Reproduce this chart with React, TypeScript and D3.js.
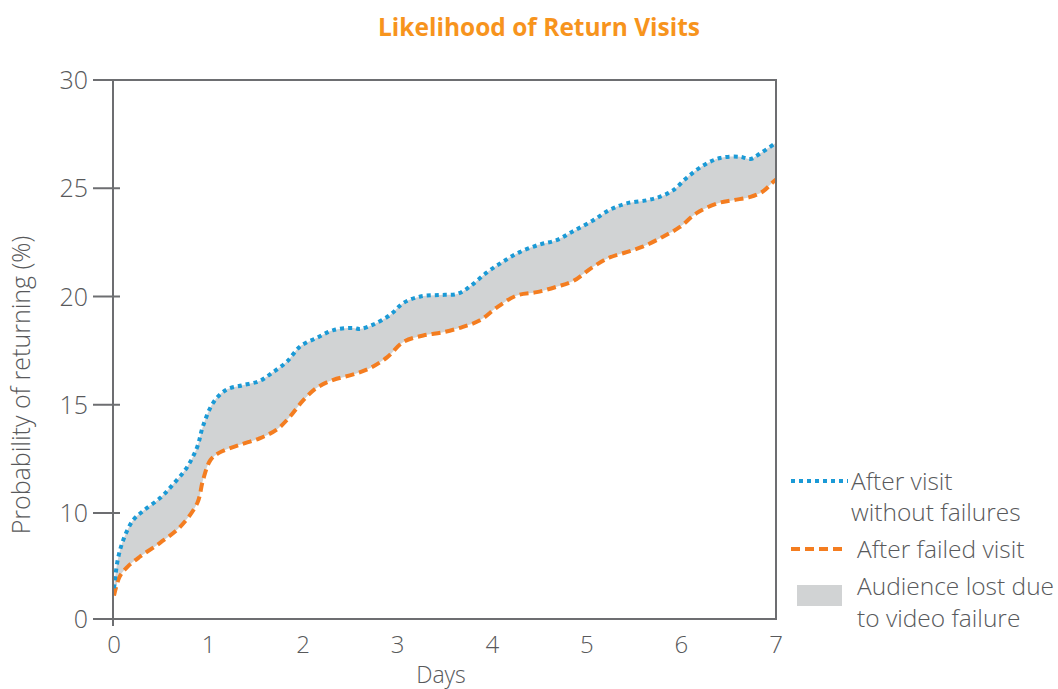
import React from "react";
import * as d3 from "d3";

// values (days, probability %)
const blueDays = [0, 0.04, 0.1, 0.2, 0.31, 0.49, 0.62, 0.77, 0.88, 0.94, 1.05, 1.19, 1.36, 1.54, 1.68, 1.83, 1.97, 2.15, 2.32, 2.53, 2.6, 2.74, 2.92, 3.06, 3.24, 3.45, 3.63, 3.76, 3.94, 4.11, 4.29, 4.5, 4.68, 4.85, 5.06, 5.24, 5.42, 5.64, 5.77, 5.91, 6.06, 6.23, 6.41, 6.62, 6.73, 6.83, 7];
const blueValues = [2.9, 5.6, 7.5, 9.3, 10.1, 10.7, 11.3, 12.1, 13.05, 14.0, 15.1, 15.7, 15.9, 16.1, 16.5, 17.0, 17.7, 18.1, 18.45, 18.55, 18.5, 18.7, 19.15, 19.7, 20.0, 20.07, 20.12, 20.45, 21.1, 21.6, 22.05, 22.4, 22.6, 23.0, 23.5, 24.0, 24.3, 24.45, 24.6, 24.9, 25.5, 26.05, 26.4, 26.45, 26.35, 26.6, 27.1];

const orangeDays = [0, 0.06, 0.14, 0.27, 0.49, 0.7, 0.88, 0.94, 1.02, 1.12, 1.33, 1.54, 1.72, 1.86, 2.0, 2.15, 2.32, 2.53, 2.71, 2.89, 3.06, 3.27, 3.48, 3.69, 3.87, 4.05, 4.26, 4.47, 4.68, 4.85, 5.06, 5.24, 5.42, 5.59, 5.8, 5.98, 6.16, 6.38, 6.55, 6.73, 6.86, 6.96, 7];
const orangeValues = [2.2, 4.0, 4.9, 5.85, 7.2, 8.7, 10.45, 11.5, 12.45, 12.8, 13.15, 13.45, 13.85, 14.45, 15.2, 15.8, 16.15, 16.4, 16.7, 17.2, 17.9, 18.2, 18.35, 18.6, 18.9, 19.5, 20.05, 20.2, 20.45, 20.7, 21.35, 21.8, 22.05, 22.3, 22.75, 23.2, 23.85, 24.3, 24.45, 24.6, 24.85, 25.25, 25.4];

const xTicks = [0, 1, 2, 3, 4, 5, 6, 7];
const yTicks = [0, 10, 15, 20, 25, 30];

const legendItems = ["After visit|without failures", "After failed visit", "Audience lost due|to video failure"];

const W = 1058;
const H = 689;
const FONT = "'Open Sans', 'Noto Sans', sans-serif";
const TEXT = "#58595b";
const AXIS = "#6d6e71";
const BLUE = "#1b9ad6";
const ORANGE = "#f47d20";
const GREY = "#d1d3d4";

type Pt = { d: number; v: number };

export default function App() {
  const x = d3.scaleLinear().domain([0, 7]).range([114, 776]);
  // the original axis is uneven below 10, so the scale is piecewise
  const y = d3.scaleLinear().domain([0, 10, 30]).range([619, 513, 80]);

  const blue: Pt[] = blueDays.map((d, i) => ({ d, v: blueValues[i] }));
  const orange: Pt[] = orangeDays.map((d, i) => ({ d, v: orangeValues[i] }));

  const line = d3
    .line<Pt>()
    .x((p) => x(p.d))
    .y((p) => y(p.v))
    .curve(d3.curveCatmullRom.alpha(0.5));

  const bluePath = line(blue) ?? "";
  const orangePath = line(orange) ?? "";
  const bandPath =
    bluePath + "L" + (line([...orange].reverse()) ?? "").slice(1) + "Z";

  const [l1, l2, l3] = legendItems.map((s) => s.split("|"));

  return (
    <svg
      width={W}
      height={H}
      style={{ position: "absolute", left: 0, top: 0, background: "#fff" }}
      fontFamily={FONT}
      fontWeight={300}
    >
      <text
        x={539}
        y={36}
        textAnchor="middle"
        fontSize={24.5}
        fontWeight={700}
        fill="#f7941d"
      >
        Likelihood of Return Visits
      </text>

      {/* band + series */}
      <path d={bandPath} fill={GREY} />
      <path
        d={orangePath}
        fill="none"
        stroke={ORANGE}
        strokeWidth={4}
        strokeDasharray="9 5"
      />
      <path
        d={bluePath}
        fill="none"
        stroke={BLUE}
        strokeWidth={4}
        strokeDasharray="4 4"
      />

      {/* frame */}
      <g stroke={AXIS} strokeWidth={2} fill="none">
        <line x1={112} x2={777} y1={y(30)} y2={y(30)} />
        <line x1={x(7)} x2={x(7)} y1={y(30)} y2={y(0)} />
        <line x1={100} x2={777} y1={y(0)} y2={y(0)} />
        <line x1={113} x2={113} y1={y(30)} y2={y(0) + 7} />
        {yTicks.map((t) => (
          <line key={t} x1={93} x2={120} y1={y(t)} y2={y(t)} />
        ))}
      </g>

      {yTicks.map((t) => (
        <text
          key={t}
          x={88}
          y={y(t) + 9}
          textAnchor="end"
          fontSize={25}
          fill={TEXT}
        >
          {t}
        </text>
      ))}
      {xTicks.map((t) => (
        <text
          key={t}
          x={x(t)}
          y={653}
          textAnchor="middle"
          fontSize={24}
          fill={TEXT}
        >
          {t}
        </text>
      ))}

      <text x={441} y={683} textAnchor="middle" fontSize={23} fill={TEXT}>
        Days
      </text>
      <text
        transform="translate(30,385) rotate(-90)"
        textAnchor="middle"
        fontSize={25}
        fill={TEXT}
      >
        Probability of returning (%)
      </text>

      {/* legend */}
      <g fontSize={24.5} fill={TEXT}>
        <line x1={791} x2={848} y1={481} y2={481} stroke={BLUE} strokeWidth={4} strokeDasharray="4 4" />
        <text x={851} y={490}>{l1[0]}</text>
        <text x={851} y={521}>{l1[1]}</text>
        <line x1={791} x2={845} y1={549} y2={549} stroke={ORANGE} strokeWidth={4} strokeDasharray="9 5" />
        <text x={857} y={558}>{l2[0]}</text>
        <rect x={797} y={585} width={45} height={21} fill={GREY} />
        <text x={857} y={595}>{l3[0]}</text>
        <text x={857} y={627}>{l3[1]}</text>
      </g>
    </svg>
  );
}
